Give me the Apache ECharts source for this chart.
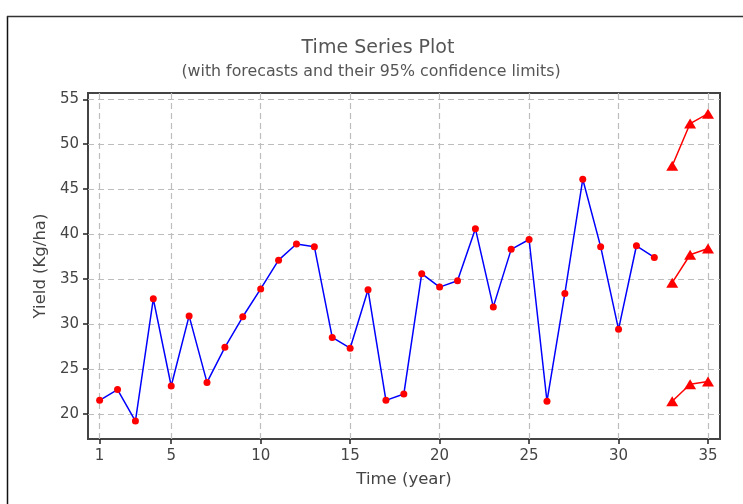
<!DOCTYPE html>
<html>
<head>
<meta charset="utf-8">
<script src="https://cdn.jsdelivr.net/npm/echarts@6/dist/echarts.min.js"></script>
<style>html,body{margin:0;padding:0;background:#fff}#c{width:743px;height:504px}</style>
</head>
<body>
<div id="c"></div>
<script>
// ---- data ----
var timeObs = [1,2,3,4,5,6,7,8,9,10,11,12,13,14,15,16,17,18,19,20,21,22,23,24,25,26,27,28,29,30,31,32];
var yieldObs = [21.5,22.7,19.2,32.8,23.1,30.9,23.5,27.4,30.8,33.9,37.1,38.9,38.6,28.5,27.3,33.8,21.5,22.2,35.6,34.1,34.8,40.6,31.9,38.3,39.4,21.4,33.4,46.1,38.6,29.4,38.7,37.4];
var timeFc = [33,34,35];
var forecast = [34.6,37.7,38.4];
var lower95 = [21.4,23.3,23.6];
var upper95 = [47.6,52.3,53.4];
var xTicks = [1,5,10,15,20,25,30,35];
var yTicks = [20,25,30,35,40,45,50,55];
var titleText = 'Time Series Plot';
var subtitleText = '(with forecasts and their 95% confidence limits)';

function pairs(xs, ys){ return xs.map(function(x,i){ return [x, ys[i]]; }); }

var FONT = '"DejaVu Sans", Verdana, sans-serif';
var chart = echarts.init(document.getElementById('c'), null, {renderer:'canvas'});

var gridLineData = xTicks.map(function(v){ return {xAxis: v}; })
  .concat(yTicks.map(function(v){ return {yAxis: v}; }));

function fcSeries(name, ys){
  return {
    name: name, type: 'line', data: pairs(timeFc, ys),
    symbol: 'triangle', symbolSize: [12, 10],
    itemStyle: {color: '#ff0000'},
    lineStyle: {color: '#ff0000', width: 1.5},
    z: 5
  };
}

chart.setOption({
  animation: false,
  backgroundColor: '#ffffff',
  title: [
    {
      text: titleText, left: 378, top: 39, textAlign: 'center', padding: 0,
      textStyle: {fontFamily: FONT, fontSize: 19, fontWeight: 'normal', color: '#555'}
    },
    {
      text: subtitleText, left: 371, top: 64, textAlign: 'center', padding: 0,
      textStyle: {fontFamily: FONT, fontSize: 15.8, fontWeight: 'normal', color: '#555'}
    }
  ],
  grid: {left: 88, right: 23, top: 93, bottom: 65, show: true, borderColor: '#444', borderWidth: 2, backgroundColor: 'transparent'},
  xAxis: {
    type: 'value', min: 0.35, max: 35.67,
    name: 'Time (year)', nameLocation: 'middle', nameGap: 32,
    nameTextStyle: {fontFamily: FONT, fontSize: 16.5, color: '#444'},
    axisLine: {show: true, lineStyle: {color: '#444', width: 2}},
    axisTick: {show: true, customValues: xTicks, length: 5, lineStyle: {color: '#222', width: 1.5}},
    axisLabel: {customValues: xTicks, margin: 10, fontFamily: FONT, fontSize: 15, color: '#444'},
    splitLine: {show: false}
  },
  yAxis: {
    type: 'value', min: 17.2, max: 55.7,
    name: 'Yield (Kg/ha)', nameLocation: 'middle', nameGap: 38, nameRotate: 90,
    nameTextStyle: {fontFamily: FONT, fontSize: 16.5, color: '#444'},
    axisLine: {show: true, lineStyle: {color: '#444', width: 2}},
    axisTick: {show: true, customValues: yTicks, length: 5, lineStyle: {color: '#222', width: 1.5}},
    axisLabel: {customValues: yTicks, margin: 9, fontFamily: FONT, fontSize: 15, color: '#444'},
    splitLine: {show: false}
  },
  graphic: [
    {type: 'line', shape: {x1: 7.5, y1: 16, x2: 7.5, y2: 504}, style: {stroke: '#111', lineWidth: 1.5}},
    {type: 'line', shape: {x1: 7, y1: 16.5, x2: 743, y2: 16.5}, style: {stroke: '#333', lineWidth: 1.5}}
  ],
  series: [
    {
      name: 'grid', type: 'line', data: [], z: 1, silent: true,
      markLine: {
        silent: true, symbol: ['none', 'none'], label: {show: false},
        lineStyle: {color: '#bdbdbd', type: [6, 4], width: 1.2},
        emphasis: {disabled: true},
        data: gridLineData
      }
    },
    {
      name: 'Actual', type: 'line', data: pairs(timeObs, yieldObs),
      symbol: 'circle', symbolSize: 7, showAllSymbol: true,
      itemStyle: {color: '#ff0000'},
      lineStyle: {color: '#0000ff', width: 1.5},
      z: 5
    },
    fcSeries('Upper 95%', upper95),
    fcSeries('Forecast', forecast),
    fcSeries('Lower 95%', lower95)
  ]
});
</script>
</body>
</html>
